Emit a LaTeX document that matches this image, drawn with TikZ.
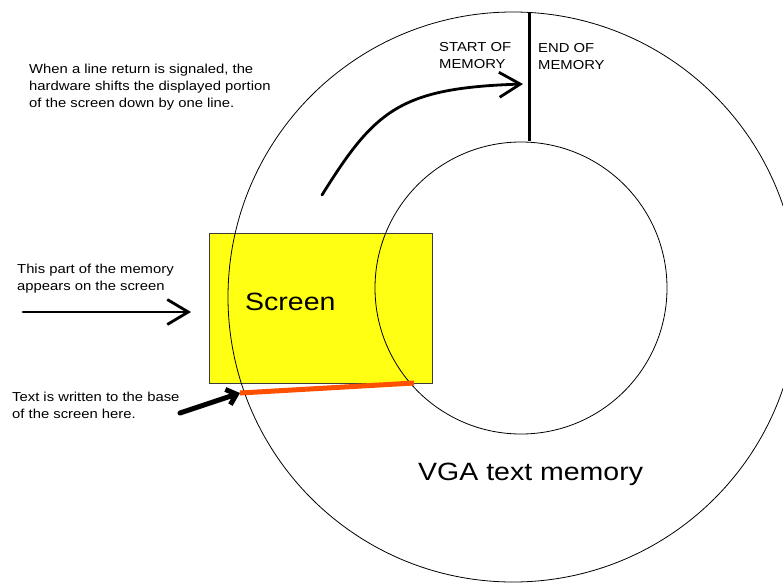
\documentclass[tikz,border=0pt]{standalone}
\usepackage{fontspec}
\setmainfont{Liberation Sans}[FakeStretch=1.14]
\usetikzlibrary{arrows.meta}

\definecolor{screenyellow}{RGB}{255,255,20}
\definecolor{baseorange}{RGB}{255,80,0}
\definecolor{framegray}{RGB}{60,60,60}

\tikzset{
  ring/.style={draw=black, line width=0.8pt},
  note/.style={font=\fontsize{13}{16.8}\selectfont, align=left, inner sep=0pt, anchor=north west},
  bigtext/.style={font=\fontsize{25}{30}\selectfont, inner sep=0pt},
  pointer/.style={line width=2.8pt, line cap=round, -{Straight Barb[length=21pt,width=25pt,line width=2.8pt]}},
  fatpointer/.style={line width=5pt, line cap=round, -{Straight Barb[length=9pt,width=16pt,line width=5pt]}}
}

\begin{document}
\begin{tikzpicture}[x=1pt,y=-1pt]
  \useasboundingbox (0,0) rectangle (783,583);
  \clip (0,0) rectangle (783,583);
  \fill[white] (0,0) rectangle (783,583);

  % the visible window onto the memory ring
  \node[draw=framegray, line width=0.8pt, fill=screenyellow, minimum width=223pt, minimum height=150pt, inner sep=0pt, anchor=north west] (screen) at (209,233) {};
  \node[bigtext, anchor=west] (screenlabel) at (245,302) {Screen};

  % memory ring
  \node[ring, circle, minimum size=570pt, inner sep=0pt] (outer) at (513,297) {};
  \node[ring, circle, minimum size=292pt, inner sep=0pt] (inner) at (521,288) {};

  % wrap-around boundary of the buffer
  \coordinate (seamtop) at (529,12);
  \coordinate (seambot) at (529,141);
  \draw[line width=3pt] (seamtop) -- (seambot);

  \node[note] (start) at (439,42) {START OF\\MEMORY};
  \node[note] (end) at (538,43) {END OF\\MEMORY};

  % bottom row of the screen, where new text goes
  \coordinate (baseL) at (240,393);
  \coordinate (baseR) at (414,383);
  \draw[baseorange, line width=5pt] (baseL) -- (baseR);

  % scrolling arrow
  \coordinate (scrollfrom) at (322,195);
  \coordinate (scrollto) at (523,84);
  \draw[pointer] (scrollfrom) .. controls (375,110) and (400,88) .. (scrollto);

  \node[note] (scrollnote) at (29,64) {When a line return is signaled, the\\hardware shifts the displayed portion\\of the screen down by one line.};

  % window arrow
  \node[note] (windownote) at (17,264) {This part of the memory\\appears on the screen};
  \coordinate (winfrom) at (23,312);
  \coordinate (winto) at (191,312);
  \draw[pointer] (winfrom) -- (winto);

  % base-of-screen arrow
  \node[note] (basenote) at (12,392) {Text is written to the base\\of the screen here.};
  \coordinate (fatfrom) at (180,413);
  \draw[fatpointer] (fatfrom) -- (baseL);

  \node[bigtext, anchor=west] (vga) at (418,474) {VGA text memory};
\end{tikzpicture}
\end{document}
